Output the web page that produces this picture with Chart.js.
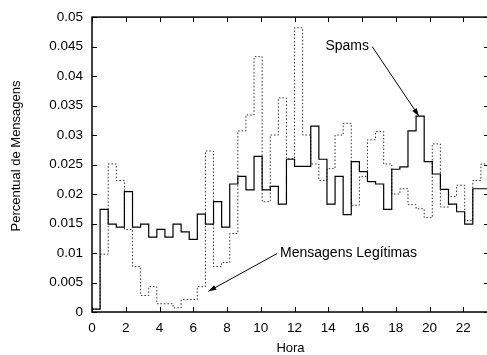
<!DOCTYPE html>
<html>
<head>
<meta charset="utf-8">
<title>Percentual de Mensagens por Hora</title>
<script src="https://cdn.jsdelivr.net/npm/chart.js@4.4.1/dist/chart.umd.min.js"></script>
<style>
    html, body { margin: 0; padding: 0; background: #ffffff; overflow: hidden; }
    #wrap { position: relative; width: 492px; height: 355px; }
</style>
</head>
<body>
<div id="wrap"><canvas id="horaChart"></canvas></div>
<script>
// Largura de cada faixa de tempo (horas)
const BIN_HOURS = 0.48;

// Rótulos dos eixos
const xTicks = [0, 2, 4, 6, 8, 10, 12, 14, 16, 18, 20, 22];
const yTicks = [0, 0.005, 0.01, 0.015, 0.02, 0.025, 0.03, 0.035, 0.04, 0.045, 0.05];

// Percentual de spams em cada faixa
const spams = [
    0.0005, 0.0174, 0.0149, 0.0144, 0.0204, 0.0144, 0.0149, 0.0127, 0.0140, 0.0127,
    0.0149, 0.0136, 0.0123, 0.0166, 0.0149, 0.0187, 0.0144, 0.0217, 0.0230, 0.0207,
    0.0264, 0.0207, 0.0213, 0.0183, 0.0259, 0.0247, 0.0247, 0.0315, 0.0259, 0.0183,
    0.0230, 0.0165, 0.0255, 0.0238, 0.0221, 0.0217, 0.0174, 0.0242, 0.0246, 0.0307,
    0.0332, 0.0255, 0.0234, 0.0208, 0.0183, 0.0170, 0.0149, 0.0209, 0.0209
];

// Percentual de mensagens legítimas em cada faixa
const legitimas = [
    0.0005, 0.0098, 0.0251, 0.0223, 0.0140, 0.0077, 0.0028, 0.0043, 0.0014, 0.0014,
    0.0007, 0.0021, 0.0021, 0.0043, 0.0273, 0.0077, 0.0084, 0.0133, 0.0307, 0.0334,
    0.0433, 0.0187, 0.0300, 0.0363, 0.0260, 0.0482, 0.0300, 0.0251, 0.0223, 0.0243,
    0.0300, 0.0320, 0.0181, 0.0230, 0.0292, 0.0306, 0.0251, 0.0200, 0.0209, 0.0182,
    0.0175, 0.0160, 0.0285, 0.0178, 0.0196, 0.0215, 0.0155, 0.0223, 0.0251
];

const FONTE = "'Liberation Sans', Arial, sans-serif";

// Converte os valores em pontos de degrau (início de cada faixa + fim da última)
function toSteps(values) {
    const pts = values.map((v, i) => ({ x: i * BIN_HOURS, y: v }));
    pts.push({ x: values.length * BIN_HOURS, y: values[values.length - 1] });
    return pts;
}

// Seta com ponta preenchida
function drawArrow(ctx, x1, y1, x2, y2) {
    const ang = Math.atan2(y2 - y1, x2 - x1);
    const len = 8, half = 2.6;
    ctx.beginPath();
    ctx.moveTo(x1, y1);
    ctx.lineTo(x2, y2);
    ctx.stroke();
    ctx.beginPath();
    ctx.moveTo(x2, y2);
    ctx.lineTo(x2 - len * Math.cos(ang) + half * Math.sin(ang), y2 - len * Math.sin(ang) - half * Math.cos(ang));
    ctx.lineTo(x2 - len * Math.cos(ang) - half * Math.sin(ang), y2 - len * Math.sin(ang) + half * Math.cos(ang));
    ctx.closePath();
    ctx.fill();
}

// Moldura, marcas internas, setas e títulos dos eixos
const moldura = {
    id: 'moldura',
    afterDraw(chart) {
        const { ctx, chartArea: a, scales: { x, y } } = chart;
        ctx.save();
        ctx.strokeStyle = '#000';
        ctx.fillStyle = '#000';
        ctx.lineWidth = 1;

        ctx.beginPath();
        xTicks.forEach(v => {
            const px = Math.round(x.getPixelForValue(v)) + 0.5;
            ctx.moveTo(px, a.bottom); ctx.lineTo(px, a.bottom - 5);
            ctx.moveTo(px, a.top); ctx.lineTo(px, a.top + 5);
        });
        yTicks.forEach(v => {
            const py = Math.round(y.getPixelForValue(v)) + 0.5;
            ctx.moveTo(a.left, py); ctx.lineTo(a.left + 5, py);
            ctx.moveTo(a.right, py); ctx.lineTo(a.right - 5, py);
        });
        ctx.stroke();

        ctx.lineWidth = 1.5;
        ctx.strokeRect(a.left, a.top, a.right - a.left, a.bottom - a.top);

        // Anotações
        ctx.lineWidth = 1;
        ctx.font = '14px ' + FONTE;
        ctx.textBaseline = 'middle';

        ctx.textAlign = 'right';
        ctx.fillText('Spams', x.getPixelForValue(16.41), y.getPixelForValue(0.0450));
        drawArrow(ctx, x.getPixelForValue(16.6), y.getPixelForValue(0.0450),
                       x.getPixelForValue(19.37), y.getPixelForValue(0.0332));

        ctx.textAlign = 'left';
        ctx.fillText('Mensagens Legítimas', x.getPixelForValue(11.14), y.getPixelForValue(0.0099));
        drawArrow(ctx, x.getPixelForValue(10.96), y.getPixelForValue(0.0099),
                       x.getPixelForValue(6.89), y.getPixelForValue(0.0035));

        // Títulos dos eixos
        ctx.font = '13px ' + FONTE;
        ctx.textAlign = 'center';
        ctx.fillText('Hora', (a.left + a.right) / 2, 348);
        ctx.translate(16, 156);
        ctx.rotate(-Math.PI / 2);
        ctx.fillText('Percentual de Mensagens', 0, 0);
        ctx.restore();
    }
};

function createHoraChart() {
    const ctx = document.getElementById('horaChart').getContext('2d');
    new Chart(ctx, {
        type: 'line',
        data: {
            datasets: [
                {
                    label: 'Spams',
                    data: toSteps(spams),
                    stepped: 'before',
                    borderColor: '#000000',
                    borderWidth: 1.2,
                    pointRadius: 0,
                    fill: false
                },
                {
                    label: 'Mensagens Legítimas',
                    data: toSteps(legitimas),
                    stepped: 'before',
                    borderColor: '#333333',
                    borderWidth: 1,
                    borderDash: [1.5, 2],
                    pointRadius: 0,
                    fill: false
                }
            ]
        },
        options: {
            responsive: true,
            maintainAspectRatio: false,
            animation: false,
            layout: { padding: { top: 15, right: 3, left: 0, bottom: 0 } },
            plugins: {
                legend: { display: false },
                tooltip: { enabled: false }
            },
            scales: {
                x: {
                    type: 'linear',
                    min: 0,
                    max: 23.52,
                    grid: { display: false, drawTicks: false },
                    border: { display: false },
                    ticks: {
                        stepSize: 2,
                        includeBounds: false,
                        autoSkip: false,
                        maxRotation: 0,
                        padding: 8,
                        color: '#000000',
                        font: { family: FONTE, size: 13.5 }
                    },
                    afterFit: scale => { scale.height = 43; }
                },
                y: {
                    min: 0,
                    max: 0.05,
                    grid: { display: false, drawTicks: false },
                    border: { display: false },
                    ticks: {
                        stepSize: 0.005,
                        autoSkip: false,
                        padding: 9,
                        color: '#000000',
                        font: { family: FONTE, size: 13.5 },
                        callback: v => String(Number(v.toFixed(3)))
                    },
                    afterFit: scale => { scale.width = 92; }
                }
            }
        },
        plugins: [moldura]
    });
}

document.addEventListener('DOMContentLoaded', createHoraChart);
</script>
</body>
</html>
